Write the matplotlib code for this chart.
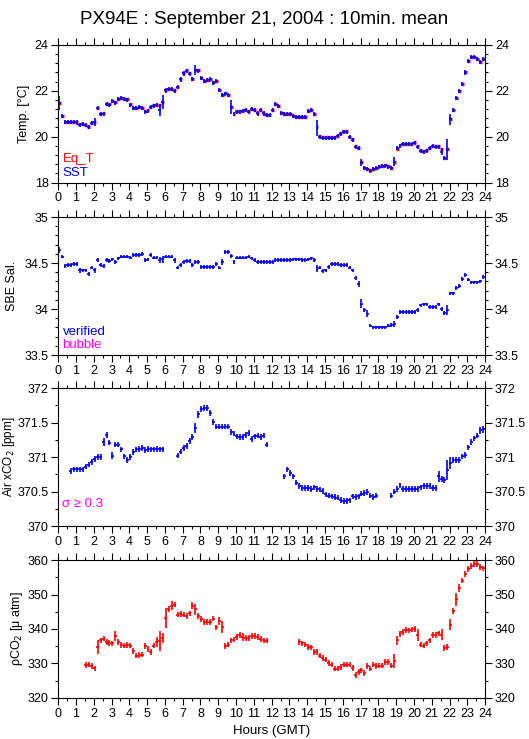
import numpy as np
import matplotlib
matplotlib.use("Agg")
import matplotlib.pyplot as plt
from matplotlib.ticker import MultipleLocator

plt.rcParams['font.family'] = ['Liberation Sans', 'DejaVu Sans']

nan = np.nan

# 10-minute means, index i -> hour (i + 0.3) / 6
sst = [21.45, 20.91, 20.65, 20.65, 20.65, 20.65, 20.62, 20.52, 20.54, 20.50,
       20.43, 20.60, 20.65, 21.26, 21.00, 21.00, 21.43, 21.38, 21.55, 21.48,
       21.64, 21.70, 21.64, 21.60, 21.38, 21.25, 21.25, 21.28, 21.23, 21.09,
       21.13, 21.29, 21.35, 21.36, 21.16, 21.52, 22.01, 22.07, 22.06, 22.00,
       22.17, 22.49, 22.75, 22.87, 22.74, 22.52, 22.90, 22.87, 22.54, 22.43,
       22.46, 22.49, 22.35, 22.43, 22.03, 21.81, 21.86, 21.80, 21.28, 20.97,
       21.09, 21.09, 21.12, 21.16, 21.09, 21.20, 21.16, 21.01, 21.16, 21.01,
       20.94, 20.94, 21.16, 21.42, 21.33, 21.04, 20.97, 20.99, 20.97, 20.90,
       20.84, 20.84, 20.84, 20.84, 21.12, 21.16, 20.99, 20.39, 20.00, 19.96,
       19.95, 19.95, 19.95, 19.96, 20.03, 20.13, 20.22, 20.22, 19.97, 19.86,
       19.57, 19.50, 18.87, 18.62, 18.59, 18.52, 18.59, 18.62, 18.70, 18.72,
       18.74, 18.70, 18.65, 18.91, 19.49, 19.61, 19.68, 19.68, 19.68, 19.68,
       19.74, 19.57, 19.39, 19.35, 19.39, 19.49, 19.59, 19.57, 19.57, 19.35,
       19.09, 19.45, 20.75, 21.16, 21.70, 22.00, 22.28, 22.80, 23.29, 23.48,
       23.48, 23.38, 23.23, 23.38]

eq_t = [21.45, 20.90, 20.66, 20.66, 20.66, 20.66, 20.64, 20.54, 20.55, 20.52,
        20.44, 20.60, 20.62, 21.26, 20.99, 21.01, 21.43, 21.40, 21.55, 21.50,
        21.66, 21.68, 21.66, 21.62, 21.40, 21.26, 21.26, 21.28, 21.25, 21.10,
        21.14, 21.30, 21.36, 21.36, 21.36, 21.50, 22.02, 22.08, 22.08, 22.02,
        22.18, 22.50, 22.76, 22.88, 22.76, 22.52, 22.88, 22.88, 22.55, 22.44,
        22.48, 22.49, 22.38, 22.44, 22.05, 21.82, 21.88, 21.82, 21.30, 20.98,
        21.10, 21.10, 21.13, 21.18, 21.10, 21.20, 21.18, 21.03, 21.18, 21.03,
        20.96, 20.96, 21.16, 21.43, 21.35, 21.05, 20.98, 21.00, 20.98, 20.90,
        20.86, 20.86, 20.86, 20.86, 21.12, 21.16, 21.00, 20.42, 20.02, 19.98,
        19.98, 19.97, 19.97, 19.98, 20.05, 20.15, 20.24, 20.24, 20.00, 19.88,
        19.58, 19.52, 18.88, 18.65, 18.60, 18.55, 18.60, 18.64, 18.71, 18.74,
        18.75, 18.72, 18.66, 18.92, 19.48, 19.62, 19.70, 19.70, 19.70, 19.70,
        19.76, 19.58, 19.40, 19.37, 19.40, 19.50, 19.60, 19.58, 19.58, 19.46,
        19.08, 19.45, 20.75, 21.15, 21.70, 22.00, 22.27, 22.80, 23.28, 23.48,
        23.48, 23.40, 23.24, 23.40]

sal = [34.64, 34.57, 34.47, 34.48, 34.48, 34.49, 34.49, 34.42, 34.42, 34.42,
       34.38, 34.45, 34.42, 34.53, 34.48, 34.47, 34.53, 34.52, 34.54, 34.51,
       34.55, 34.57, 34.57, 34.57, 34.56, 34.59, 34.59, 34.59, 34.60, 34.53,
       34.54, 34.59, 34.56, 34.56, 34.53, 34.54, 34.57, 34.57, 34.57, 34.53,
       34.45, 34.48, 34.51, 34.52, 34.52, 34.48, 34.51, 34.51, 34.46, 34.46,
       34.46, 34.46, 34.46, 34.49, 34.45, 34.51, 34.62, 34.62, 34.58, 34.51,
       34.56, 34.56, 34.56, 34.56, 34.57, 34.55, 34.53, 34.51, 34.51, 34.51,
       34.51, 34.51, 34.51, 34.53, 34.53, 34.53, 34.53, 34.53, 34.53, 34.54,
       34.54, 34.54, 34.53, 34.53, 34.54, 34.55, 34.53, 34.44, 34.45, 34.41,
       34.42, 34.46, 34.49, 34.49, 34.49, 34.48, 34.48, 34.48, 34.45, 34.42,
       34.34, 34.27, 34.06, 33.99, 33.95, 33.82, 33.80, 33.80, 33.80, 33.80,
       33.80, 33.82, 33.83, 33.84, 33.91, 33.97, 33.97, 33.97, 33.97, 33.97,
       33.97, 33.99, 34.04, 34.05, 34.05, 34.02, 34.02, 34.02, 34.05, 34.00,
       33.96, 33.99, 34.17, 34.17, 34.23, 34.25, 34.33, 34.37, 34.32, 34.29,
       34.29, 34.29, 34.30, 34.35]

xco2 = [nan, nan, nan, nan,
        370.80, 370.82, 370.82, 370.82, 370.82, 370.86,
        370.89, 370.93, 370.97, 371.00, 371.00, 371.22, 371.32, 371.21, 371.02, 371.18,
        371.18, 371.11, 371.01, 370.96, 371.00, 371.07, 371.11, 371.12, 371.13, 371.10,
        371.12, 371.11, 371.11, 371.12, 371.11, 371.11, nan, nan, nan, nan,
        371.02, 371.08, 371.13, 371.16, 371.23, 371.29, 371.42, 371.62, 371.70, 371.71,
        371.71, 371.64, 371.51, 371.44, 371.44, 371.44, 371.44, 371.44, 371.36, 371.34,
        371.30, 371.29, 371.29, 371.32, 371.35, 371.26, 371.30, 371.31, 371.29, 371.31,
        371.18, nan, nan, nan, nan, nan, 370.72, 370.82, 370.77, 370.72,
        370.63, 370.58, 370.55, 370.55, 370.55, 370.54, 370.56, 370.54, 370.53, 370.51,
        370.46, 370.44, 370.43, 370.42, 370.41, 370.38, 370.36, 370.36, 370.37, 370.43,
        370.42, 370.43, 370.47, 370.48, 370.49, 370.44, 370.42, 370.44, nan, nan,
        nan, nan, 370.44, 370.50, 370.54, 370.59, 370.54, 370.54, 370.54, 370.54,
        370.54, 370.54, 370.56, 370.58, 370.58, 370.58, 370.55, 370.55, 370.72, 370.68,
        370.67, 370.81, 370.91, 370.96, 370.96, 370.96, 371.01, 371.03, 371.14, 371.22,
        371.27, 371.31, 371.39, 371.40]

pco2 = [nan, nan, nan, nan, nan, nan, nan, nan, nan, 329.5,
        329.7, 329.2, 328.6, 334.7, 336.7, 337.2, 336.3, 336.0, 335.8, 337.9,
        336.3, 335.3, 335.2, 335.3, 335.2, 333.6, 332.3, 332.4, 332.6, 335.0,
        334.2, 333.4, 335.2, 336.2, 336.5, 337.4, 343.2, 345.8, 346.8, 347.1,
        344.2, 344.4, 344.2, 343.7, 344.5, 346.8, 345.7, 343.7, 342.9, 342.1,
        342.1, 342.0, 343.0, 340.5, 342.3, 340.6, 335.0, 335.5, 336.7, 336.9,
        337.7, 338.2, 337.6, 337.4, 337.4, 337.9, 337.9, 337.7, 337.1, 336.7,
        336.6, nan, nan, nan, nan, nan, nan, nan, nan, nan,
        nan, 336.2, 335.8, 335.5, 334.8, 334.7, 333.3, 333.4, 332.3, 331.6,
        331.1, 330.2, 329.7, 328.5, 328.5, 329.0, 329.7, 329.7, 329.7, 328.7,
        326.6, 327.6, 328.0, 327.3, 329.2, 328.5, 329.7, 329.2, 329.4, 329.4,
        330.4, 330.4, 329.4, 330.8, 336.7, 338.6, 339.2, 339.7, 339.6, 339.8,
        340.0, 338.2, 335.5, 335.2, 335.8, 336.7, 338.2, 338.2, 338.7, 338.4,
        334.5, 334.8, 341.3, 345.2, 348.6, 351.8, 354.0, 355.9, 357.4, 358.3,
        358.8, 358.8, 358.0, 357.6]

# standard deviations: a typical value plus the larger ones
sst_sd, sst_sd_big = 0.09, {0: 0.3, 12: 0.18, 34: 0.25, 35: 0.3, 46: 0.2, 58: 0.3,
                            87: 0.35, 102: 0.15, 113: 0.2, 129: 0.15, 131: 0.45,
                            132: 0.25, 137: 0.12}
sal_sd, sal_sd_big = 0.02, {0: 0.03, 7: 0.03, 12: 0.025, 34: 0.035, 35: 0.04, 39: 0.025,
                            55: 0.03, 87: 0.04, 101: 0.03, 102: 0.05, 104: 0.04,
                            113: 0.03, 131: 0.05}
xco2_sd, xco2_sd_big = 0.04, {15: 0.06, 16: 0.05, 18: 0.05, 46: 0.07, 47: 0.05,
                              128: 0.08, 131: 0.15, 132: 0.09, 142: 0.05, 143: 0.05}
pco2_sd, pco2_sd_big = 0.8, {13: 2.0, 19: 1.5, 33: 1.5, 34: 2.8, 35: 1.5, 36: 2.8,
                             38: 1.2, 45: 1.0, 46: 1.5, 54: 1.2, 55: 1.8, 62: 1.2,
                             113: 2.0, 114: 1.2, 121: 1.7, 129: 1.7, 132: 1.7,
                             134: 1.8, 135: 1.2}

hours = (np.arange(144) + 0.3) / 6.0


def sd_array(base, big):
    e = np.full(144, base)
    for k, v in big.items():
        e[k] = v
    return e


def style_axis(ax, ylim, major, minor, label, label_x):
    ax.set_xlim(0, 24)
    ax.set_ylim(*ylim)
    ax.xaxis.set_major_locator(MultipleLocator(1))
    ax.xaxis.set_minor_locator(MultipleLocator(0.5))
    ax.yaxis.set_major_locator(MultipleLocator(major))
    ax.yaxis.set_minor_locator(MultipleLocator(minor))
    ax.yaxis.set_major_formatter(plt.FuncFormatter(lambda v, p: f"{v:g}"))
    ax.tick_params(which="both", direction="out", top=True, right=True,
                   labelright=True, labelsize=9, width=0.8, pad=2)
    ax.tick_params(which="major", length=5)
    ax.tick_params(which="minor", length=2.5)
    for s in ax.spines.values():
        s.set_linewidth(0.8)
    ax.set_ylabel(label, fontsize=9)
    ax.yaxis.set_label_coords(label_x, 0.5)


fig = plt.figure(figsize=(5.29, 7.39), dpi=100)
L, W, H = 0.110, 0.807, 0.1867
ax1 = fig.add_axes([L, 0.7528, W, H])
ax2 = fig.add_axes([L, 0.5196, W, H])
ax3 = fig.add_axes([L, 0.2882, W, H])
ax4 = fig.add_axes([L, 0.0555, W, H])

dx = 1.0 / 12
# Temperature
ax1.errorbar(hours, eq_t, xerr=dx, fmt="none", ecolor="red", elinewidth=2.4, capsize=0)
ax1.errorbar(hours, sst, xerr=dx, yerr=sd_array(sst_sd, sst_sd_big), fmt="none",
             ecolor="blue", elinewidth=1.2, capsize=0)
style_axis(ax1, (18, 24), 2, 0.4, "Temp. [°C]", -0.066)
ax1.text(0.01, 0.17, "Eq_T", color="red", fontsize=9.5, transform=ax1.transAxes, va="center")
ax1.text(0.01, 0.07, "SST", color="blue", fontsize=9.5, transform=ax1.transAxes, va="center")

# Salinity
ax2.errorbar(hours, sal, xerr=dx, yerr=sd_array(sal_sd, sal_sd_big), fmt="none",
             ecolor="blue", elinewidth=1.2, capsize=0)
style_axis(ax2, (33.5, 35), 0.5, 0.1, "SBE Sal.", -0.094)
ax2.text(0.01, 0.17, "verified", color="blue", fontsize=9.5, transform=ax2.transAxes, va="center")
ax2.text(0.01, 0.07, "bubble", color="magenta", fontsize=9.5, transform=ax2.transAxes, va="center")

# Air xCO2
ax3.errorbar(hours, xco2, xerr=dx, yerr=sd_array(xco2_sd, xco2_sd_big), fmt="none",
             ecolor="blue", elinewidth=1.2, capsize=0)
style_axis(ax3, (370, 372), 0.5, 0.25, "Air xCO$_2$ [ppm]", -0.097)
ax3.yaxis.label.set_fontsize(8.5)
ax3.text(0.01, 0.16, "σ ≥ 0.3", color="magenta", fontsize=9.5, transform=ax3.transAxes, va="center")

# pCO2
ax4.errorbar(hours, pco2, xerr=dx, yerr=sd_array(pco2_sd, pco2_sd_big), fmt="none",
             ecolor="red", elinewidth=1.2, capsize=0)
style_axis(ax4, (320, 360), 10, 5, "ρCO$_2$ [μ atm]", -0.078)
ax4.set_xlabel("Hours (GMT)", fontsize=9.5, labelpad=4)

fig.suptitle("PX94E : September 21, 2004 : 10min. mean", fontsize=13.5, y=0.985)

fig.savefig("out.png", dpi=100)
